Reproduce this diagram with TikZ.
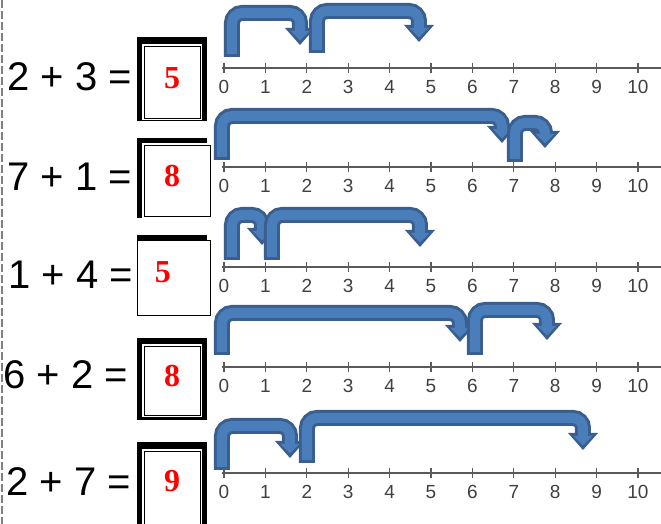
\documentclass[tikz,border=0pt]{standalone}
\usepackage{fontspec}
\setmainfont{Liberation Serif}
\setsansfont{Liberation Sans}
\usepackage{tikz}
\definecolor{hopfill}{HTML}{4A7EBB}
\definecolor{hopline}{HTML}{3A5F8F}
\definecolor{axisgray}{HTML}{5A5A5A}
\tikzset{
  hopout/.style={draw=hopline, line width=8pt, rounded corners=5pt},
  hopin/.style={draw=hopfill, line width=5pt, rounded corners=5pt},
  axisline/.style={draw=axisgray, line width=0.6pt},
  tickmark/.style={draw=axisgray, line width=0.6pt},
  ticklabel/.style={inner sep=0pt, text=black!75, font=\sffamily\fontsize{9.5}{11}\selectfont},
  sum/.style={anchor=west, inner sep=0pt, font=\sffamily\fontsize{20}{24}\selectfont},
  frame/.style={fill=black, inner sep=0pt},
  face/.style={fill=white, draw=black, line width=0.4pt, inner sep=0pt, preaction={draw=white, line width=2pt}},
  answer/.style={inner sep=0pt, text=red, font=\bfseries\fontsize{16}{18}\selectfont}
}
\newcommand{\hop}[5]{%
  \draw[hopout] (#1,#2) -- (#1,#3+8) -- (#4,#3+8) -- (#4,#5-15);
  \fill[hopline] (#4-15,#5-17) -- (#4+15,#5-17) -- (#4,#5) -- cycle;
  \draw[hopin] (#1,#2-3) -- (#1,#3+8) -- (#4,#3+8) -- (#4,#5-13);
  \fill[hopfill] (#4-9.5,#5-14) -- (#4+9.5,#5-14) -- (#4,#5-4.5) -- cycle;
}

\begin{document}
\begin{tikzpicture}[x=0.5pt,y=-0.5pt]
\useasboundingbox (0,0) rectangle (661,524);
\draw[gray, line width=0.7pt, dash pattern=on 4pt off 1.5pt] (2,0) -- (2,524);

\foreach \r/\y in {1/68, 2/167, 3/267, 4/367, 5/473} {
  \draw[axisline] (222,\y) -- (661,\y);
  \foreach \k in {0,...,10} {
    \draw[tickmark] (224+41.4*\k,\y-5) -- (224+41.4*\k,\y+5);
    \node[ticklabel] (t\r-\k) at (224+41.4*\k,\y+19) {\k};
  }
}

\node[sum] (e1) at (7,77) {2 + 3 =};
\node[sum] (e2) at (7,177) {7 + 1 =};
\node[sum] (e3) at (8,275) {1 + 4 =};
\node[sum] (e4) at (3,375) {6 + 2 =};
\node[sum] (e5) at (6,482) {2 + 7 =};

\node[frame, minimum width=35pt, minimum height=42pt] (f1) at (172,79) {};
\node[face, minimum width=28pt, minimum height=36pt] (s1) at (172.5,82.5) {};
\node[frame, minimum width=35pt, minimum height=40pt] (f2) at (172,178) {};
\node[face, minimum width=33pt, minimum height=35.5pt] (s2) at (177.5,181) {};
\node[face, minimum width=36.5pt, minimum height=37.5pt] (s3) at (173.5,277.5) {};
\node[frame, minimum width=35pt, minimum height=3pt] (f3) at (172,238.5) {};
\node[frame, minimum width=35pt, minimum height=41pt] (f4) at (172,379) {};
\node[face, minimum width=28pt, minimum height=34.5pt] (s4) at (172.5,381) {};
\node[frame, minimum width=35pt, minimum height=44pt] (f5) at (172,486) {};
\node[face, minimum width=28pt, minimum height=39.5pt] (s5) at (172.5,491) {};

\node[answer] (d1) at (172,78) {5};
\node[answer] (d2) at (172,176) {8};
\node[answer] (d3) at (163,272) {5};
\node[answer] (d4) at (172,376) {8};
\node[answer] (d5) at (172,481) {9};

\hop{232}{57}{5}{300}{45}
\hop{317}{53}{3}{419}{42}
\hop{222}{160}{108}{502}{143}
\hop{515}{162}{115}{545}{148}
\hop{232}{260}{207}{262}{245}
\hop{272}{260}{207}{420}{247}
\hop{222}{355}{305}{460}{342}
\hop{475}{355}{302}{547}{340}
\hop{222}{470}{418}{290}{458}
\hop{307}{463}{410}{583}{450}
\end{tikzpicture}
\end{document}
